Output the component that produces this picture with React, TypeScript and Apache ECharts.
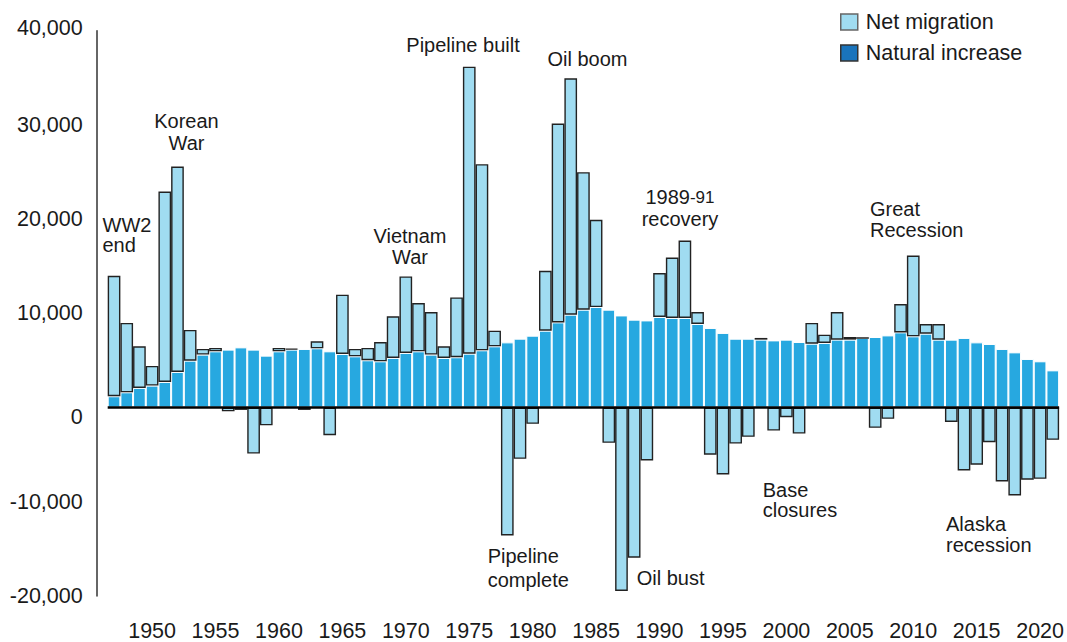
import React, { useEffect, useRef } from "react";
import * as echarts from "echarts";

// Categories: years 1947–2021
const years: string[] = Array.from({ length: 75 }, (_, i) => String(1947 + i));

// Natural increase (births minus deaths), persons
const naturalIncrease: number[] = [
  1200, 1620, 2090, 2330, 2720, 3780, 4980, 5620, 5970, 6150, // 1947-1956
  6390, 6150, 5510, 5970, 6150, 6220, 6290, 5970, 5690, 5440, // 1957-1966
  5020, 4910, 5270, 5800, 5970, 5620, 5270, 5340, 5720, 6080, // 1967-1976
  6500, 6920, 7310, 7630, 8160, 9040, 9860, 10390, 10670, 10390, // 1977-1986
  9780, 9330, 9250, 9610, 9510, 9510, 8870, 8450, 7920, 7310, // 1987-1996
  7310, 7210, 7130, 7210, 6960, 6780, 6860, 7210, 7210, 7390, // 1997-2006
  7490, 7660, 7980, 7560, 7840, 7210, 7210, 7390, 6920, 6750, // 2007-2016
  6220, 5860, 5160, 4910, 3950, // 2017-2021
];

// Net migration, persons
const netMigration: number[] = [
  12790, 7360, 4410, 2090, 20210, 21800, 3260, 600, 360, -400, // 1947-1956
  -250, -4880, -1880, 360, 100, -250, 740, -2940, 6290, 780, // 1957-1966
  1310, 2050, 4410, 8120, 5130, 4520, 1230, 6350, 30460, 19750, // 1967-1976
  1660, -13570, -5440, -1730, 6360, 21100, 25090, 14590, 9260, -3740, // 1977-1986
  -19470, -15930, -5620, 4670, 6420, 8220, 1270, -5010, -7100, -3820, // 1987-1996
  -3110, 180, -2440, -1030, -2760, 2200, 880, 2930, 280, 0, // 1997-2006
  -2150, -1200, 3010, 8580, 1030, 1660, -1520, -6680, -6070, -3680, // 2007-2016
  -7840, -9330, -7660, -7560, -3420, // 2017-2021
];

// Value axis ticks
const yMin = -20000;
const yMax = 40000;
const yStep = 10000;

const seriesNames = ["Net migration", "Natural increase"];

const annotationTexts = [
  "WW2\nend",
  "Korean\nWar",
  "Vietnam\nWar",
  "Pipeline built",
  "Oil boom",
  "{a|1989}{b|-91}\n{a|recovery}",
  "Great\nRecession",
  "Pipeline\ncomplete",
  "Oil bust",
  "Base\nclosures",
  "Alaska\nrecession",
];

const FONT = '"Liberation Sans", Arial, Helvetica, sans-serif';
const TEXT = "#1a1a1a";

// layout of the annotation texts (pixels)
const annotationLayout = [
  { x: 102.5, y: 235, align: "left", lh: 20 },
  { x: 186.5, y: 132.3, align: "center", lh: 22.4 },
  { x: 410, y: 246.2, align: "center", lh: 21.3 },
  { x: 463, y: 44.5, align: "center", lh: 20 },
  { x: 587.5, y: 58.8, align: "center", lh: 20 },
  { x: 680, y: 207.9, align: "center", lh: 21.8 },
  { x: 870, y: 219.5, align: "left", lh: 21.3 },
  { x: 487.7, y: 567.5, align: "left", lh: 24 },
  { x: 636.7, y: 577.8, align: "left", lh: 20 },
  { x: 762.7, y: 499.5, align: "left", lh: 20 },
  { x: 946, y: 534.6, align: "left", lh: 21.7 },
];

export default function App() {
  const ref = useRef<HTMLDivElement>(null);

  useEffect(() => {
    const chart = echarts.init(ref.current as HTMLDivElement, null, { renderer: "svg" });

    const graphics = annotationTexts.map((t, i) => {
      const l = annotationLayout[i];
      return {
        type: "text",
        x: l.x,
        y: l.y,
        z: 100,
        silent: true,
        style: {
          text: t,
          fill: TEXT,
          fontSize: 20,
          fontFamily: FONT,
          lineHeight: l.lh,
          textAlign: l.align,
          textVerticalAlign: "middle",
          align: l.align,
          verticalAlign: "middle",
          rich: {
            a: { fontSize: 20, fontFamily: FONT, fill: TEXT, lineHeight: l.lh },
            b: { fontSize: 17, fontFamily: FONT, fill: TEXT, lineHeight: l.lh },
          },
        },
      };
    });

    const labelStyle = { fontSize: 21.5, fontFamily: FONT, color: TEXT };

    chart.setOption({
      animation: false,
      backgroundColor: "#ffffff",
      grid: { left: 107.7, right: 6, top: 30.7, bottom: 45.3, containLabel: false },
      legend: {
        orient: "vertical",
        left: 840,
        top: 11,
        padding: 0,
        itemWidth: 17,
        itemHeight: 16,
        itemGap: 9,
        icon: "rect",
        selectedMode: false,
        textStyle: { fontSize: 21.5, fontFamily: FONT, color: TEXT, padding: [0, 0, 0, 3] },
        data: [
          { name: seriesNames[0], itemStyle: { color: "#a0dcf1", borderColor: "#666666", borderWidth: 1.5 } },
          { name: seriesNames[1], itemStyle: { color: "#1a74bc", borderColor: "#333333", borderWidth: 1.5 } },
        ],
      },
      xAxis: {
        type: "category",
        data: years,
        axisLine: { show: false, onZero: false },
        axisTick: { show: false },
        splitLine: { show: false },
        axisLabel: {
          ...labelStyle,
          margin: 24,
          interval: (_i: number, v: string) => Number(v) % 5 === 0,
        },
      },
      yAxis: {
        type: "value",
        min: yMin,
        max: yMax,
        interval: yStep,
        offset: 11,
        axisLine: { show: true, lineStyle: { color: "#333333", width: 1.5 } },
        axisTick: { show: false },
        splitLine: { show: false },
        axisLabel: {
          ...labelStyle,
          margin: 14,
          formatter: (v: number) => {
            const s = v.toLocaleString("en-US");
            if (v === 0) return "{z|0}";
            if (v === yMax) return "{t|" + s + "}";
            return s;
          },
          rich: {
            z: { ...labelStyle, padding: [18, 0, 0, 0] },
            t: { ...labelStyle, padding: [0, 0, 6, 0] },
          },
        },
      },
      series: [
        {
          name: seriesNames[1],
          type: "bar",
          stack: "total",
          data: naturalIncrease,
          barCategoryGap: "0%",
          z: 2,
          itemStyle: { color: "#27a8e0", borderColor: "#ffffff", borderWidth: 1 },
        },
        {
          name: seriesNames[0],
          type: "bar",
          stack: "total",
          data: netMigration,
          barCategoryGap: "0%",
          z: 3,
          itemStyle: { color: "#a0dcf1", borderColor: "#222222", borderWidth: 1.4 },
          markLine: {
            silent: true,
            symbol: ["none", "none"],
            label: { show: false },
            lineStyle: { color: "#000000", width: 2.5, type: "solid" },
            data: [{ yAxis: 0 }],
          },
        },
      ],
      graphic: graphics,
    });

    return () => chart.dispose();
  }, []);

  return (
    <div
      ref={ref}
      style={{ position: "fixed", left: 0, top: 0, width: 1067, height: 642 }}
    />
  );
}
